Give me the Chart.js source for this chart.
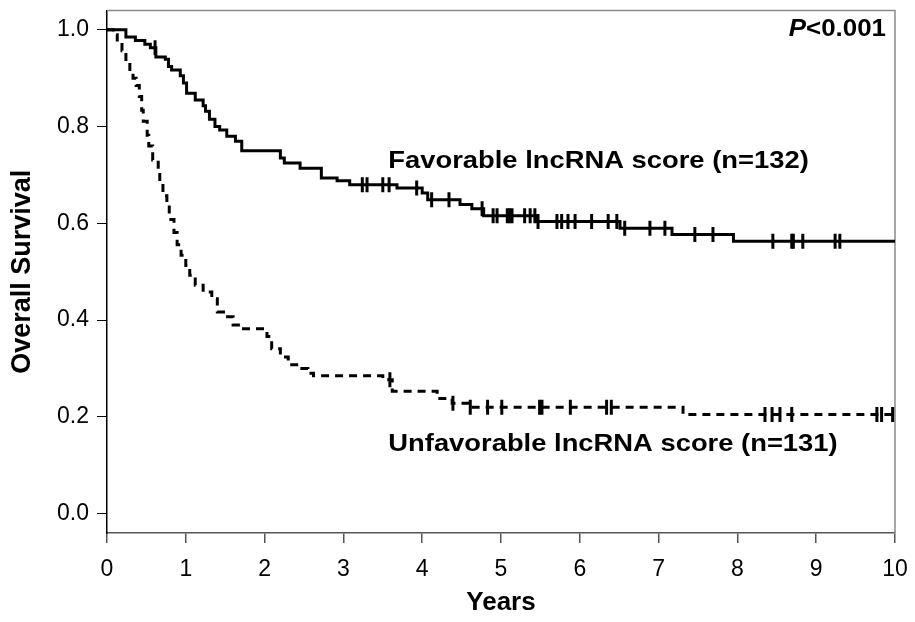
<!DOCTYPE html>
<html>
<head>
<meta charset="utf-8">
<script src="https://cdn.jsdelivr.net/npm/chart.js@4.4.1/dist/chart.umd.min.js"></script>
<style>
  html, body { margin: 0; padding: 0; background: #fff; }
</style>
</head>
<body>
<canvas id="km" width="915" height="622"></canvas>
<script>
// Favorable lncRNA score: time of each drop (years) and survival right after it
const favTimes = [0.24, 0.36, 0.48, 0.55, 0.62, 0.74, 0.78, 0.82, 0.93, 0.97, 1.01, 1.12, 1.22, 1.25, 1.30, 1.37,
  1.43, 1.52, 1.63, 1.71, 2.20, 2.25, 2.45, 2.72, 2.92, 3.08, 3.68, 4.00, 4.07, 4.48, 4.63, 4.78, 5.44, 6.51, 7.17, 7.95];
const favSurv = [0.985, 0.978, 0.970, 0.963, 0.944, 0.939, 0.924, 0.917, 0.905, 0.890, 0.869, 0.855, 0.843, 0.832, 0.815, 0.800,
  0.793, 0.780, 0.770, 0.750, 0.735, 0.725, 0.714, 0.694, 0.688, 0.680, 0.673, 0.663, 0.649, 0.639, 0.630, 0.616, 0.604, 0.590, 0.577, 0.563];
const favCensored = [0.61, 3.24, 3.30, 3.50, 3.58, 3.93, 4.12, 4.34, 4.76, 4.90, 4.95, 5.08, 5.11, 5.14, 5.30, 5.37, 5.43, 5.47,
  5.71, 5.77, 5.85, 5.94, 6.15, 6.36, 6.47, 6.57, 6.89, 7.08, 7.46, 7.69, 8.45, 8.69, 8.71, 8.83, 9.24, 9.30];

// Unfavorable lncRNA score
const unfavTimes = [0.08, 0.13, 0.19, 0.24, 0.29, 0.33, 0.37, 0.41, 0.44, 0.46, 0.51, 0.53, 0.58, 0.65, 0.67, 0.71, 0.76, 0.79,
  0.85, 0.89, 0.94, 1.00, 1.05, 1.12, 1.22, 1.33, 1.40, 1.50, 1.60, 1.70, 2.03, 2.09, 2.20, 2.30, 2.45, 2.55, 2.62, 3.50, 3.62,
  4.19, 4.38, 4.60, 7.31];
const unfavSurv = [0.990, 0.975, 0.957, 0.935, 0.914, 0.900, 0.885, 0.862, 0.834, 0.811, 0.782, 0.760, 0.731, 0.708, 0.684, 0.657, 0.637, 0.608,
  0.581, 0.556, 0.534, 0.513, 0.493, 0.472, 0.458, 0.444, 0.417, 0.407, 0.390, 0.382, 0.366, 0.341, 0.324, 0.308, 0.300, 0.290, 0.285, 0.277, 0.253,
  0.238, 0.228, 0.220, 0.205];
const unfavCensored = [3.59, 4.39, 4.61, 4.83, 5.01, 5.49, 5.52, 5.88, 6.34, 6.40, 8.35, 8.44, 8.54, 8.69, 9.77, 9.83, 9.97];

const xTicks = [0, 1, 2, 3, 4, 5, 6, 7, 8, 9, 10];
const yTicks = [0, 0.2, 0.4, 0.6, 0.8, 1.0];
const followUpEnd = 10;

const favLabel = 'Favorable lncRNA score (n=132)';
const unfavLabel = 'Unfavorable lncRNA score (n=131)';
const FONT = "'Liberation Sans', Arial, Helvetica, sans-serif";

// step curve points: start at 1.0, one point per drop, carried on to the end of follow-up
function stepPoints(times, surv) {
  const pts = [{ x: 0, y: 1 }];
  times.forEach((t, i) => pts.push({ x: t, y: surv[i] }));
  pts.push({ x: followUpEnd, y: surv[surv.length - 1] });
  return pts;
}

function survivalAt(times, surv, t) {
  let s = 1;
  times.forEach((tt, i) => { if (tt <= t) s = surv[i]; });
  return s;
}

function censorPoints(cens, times, surv) {
  return cens.map((t) => ({ x: t, y: survivalAt(times, surv, t) }));
}

const censorStyle = {
  showLine: false,
  pointStyle: 'line',
  rotation: 90,
  pointRadius: 7.5,
  pointHoverRadius: 7.5,
  pointBorderWidth: 3,
  pointBorderColor: '#000',
  borderColor: '#000'
};

// top and right edges of the plot frame
const frame = {
  id: 'frame',
  beforeDatasetsDraw(chart) {
    const { ctx, chartArea: a } = chart;
    ctx.save();
    ctx.strokeStyle = '#8a8a8a';
    ctx.lineWidth = 1.5;
    ctx.beginPath();
    ctx.moveTo(a.left, a.top);
    ctx.lineTo(a.right, a.top);
    ctx.lineTo(a.right, a.bottom);
    ctx.stroke();
    ctx.restore();
  }
};

// text a little wider than the font, like the original figure
function wideText(ctx, str, x, y, sx) {
  ctx.save();
  ctx.translate(x, y);
  ctx.scale(sx, 1);
  ctx.fillText(str, 0, 0);
  ctx.restore();
}

// curve labels and p-value
const notes = {
  id: 'notes',
  afterDraw(chart) {
    const { ctx, scales: { x, y }, chartArea: a } = chart;
    ctx.save();
    ctx.fillStyle = '#000';
    ctx.textBaseline = 'middle';
    ctx.textAlign = 'left';
    ctx.font = 'bold 24px ' + FONT;
    wideText(ctx, favLabel, x.getPixelForValue(3.57), y.getPixelForValue(0.729), 1.14);
    wideText(ctx, unfavLabel, x.getPixelForValue(3.57), y.getPixelForValue(0.144), 1.14);

    const sx = 1.08;
    ctx.font = 'bold 24px ' + FONT;
    const rest = '<0.001';
    const wRest = ctx.measureText(rest).width * sx;
    const right = a.right - 9;
    const py = y.getPixelForValue(1.0);
    wideText(ctx, rest, right - wRest, py, sx);
    ctx.font = 'italic bold 24px ' + FONT;
    const wP = ctx.measureText('P').width * sx;
    wideText(ctx, 'P', right - wRest - wP, py, sx);
    ctx.restore();
  }
};

new Chart(document.getElementById('km'), {
  type: 'line',
  plugins: [frame, notes],
  data: {
    datasets: [
      {
        data: stepPoints(favTimes, favSurv),
        stepped: true,
        borderColor: '#000',
        borderWidth: 3,
        pointRadius: 0,
        fill: false
      },
      {
        data: stepPoints(unfavTimes, unfavSurv),
        stepped: true,
        borderColor: '#000',
        borderWidth: 3,
        borderDash: [8, 6],
        pointRadius: 0,
        fill: false
      },
      { data: censorPoints(favCensored, favTimes, favSurv), ...censorStyle },
      { data: censorPoints(unfavCensored, unfavTimes, unfavSurv), ...censorStyle }
    ]
  },
  options: {
    responsive: false,
    devicePixelRatio: 1,
    animation: false,
    layout: { padding: { top: 7, right: 20, left: 0, bottom: 0 } },
    plugins: { legend: { display: false }, tooltip: { enabled: false } },
    scales: {
      x: {
        type: 'linear',
        min: 0,
        max: 10,
        afterBuildTicks: (s) => { s.ticks = xTicks.map((v) => ({ value: v })); },
        afterFit: (s) => { s.height = 89; s.paddingLeft = 0; s.paddingRight = 0; },
        ticks: { color: '#000', font: { family: FONT, size: 23 }, padding: 13, maxRotation: 0 },
        grid: { drawOnChartArea: false, drawTicks: true, tickLength: 10, color: '#555', lineWidth: 1.5 },
        border: { color: '#555', width: 1.5 },
        title: { display: true, text: 'Years', color: '#000', font: { family: FONT, size: 26, weight: 'bold' }, padding: { top: 0, bottom: 4 } }
      },
      y: {
        min: -0.04,
        max: 1.04,
        afterBuildTicks: (s) => { s.ticks = yTicks.map((v) => ({ value: v })); },
        afterFit: (s) => { s.width = 107; s.paddingTop = 0; s.paddingBottom = 0; },
        ticks: { color: '#000', font: { family: FONT, size: 23 }, padding: 8, callback: (v) => v.toFixed(1) },
        grid: { drawOnChartArea: false, drawTicks: true, tickLength: 10, color: '#000', lineWidth: 1 },
        border: { color: '#000', width: 1.5 },
        title: { display: true, text: 'Overall Survival', color: '#000', font: { family: FONT, size: 27, weight: 'bold' }, padding: { top: 6, bottom: 0 } }
      }
    }
  }
});
</script>
</body>
</html>
